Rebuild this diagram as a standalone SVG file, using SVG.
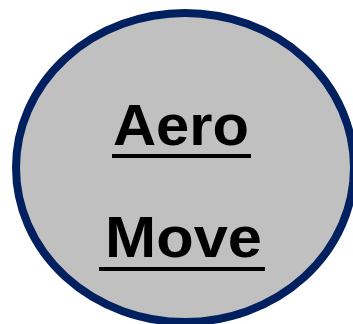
<svg xmlns="http://www.w3.org/2000/svg" width="353" height="324" viewBox="0 0 353 324">
<style>
.t{font-family:"Liberation Sans",Arial,sans-serif;font-weight:bold;font-size:58px;fill:#000}
.u{stroke:#000;stroke-width:4}
</style>
<g id="node-aeromove">
<ellipse cx="185" cy="167.5" rx="169" ry="154.5" fill="#c0c0c0" stroke="#002060" stroke-width="8"/>
<text class="t" x="113" y="145" textLength="136" lengthAdjust="spacingAndGlyphs">Aero</text>
<line class="u" x1="112" y1="156" x2="251" y2="156"/>
<text class="t" x="105" y="257" textLength="157" lengthAdjust="spacingAndGlyphs">Move</text>
<line class="u" x1="99" y1="269" x2="265" y2="269"/>
</g>
<g id="connectors"/>
</svg>
